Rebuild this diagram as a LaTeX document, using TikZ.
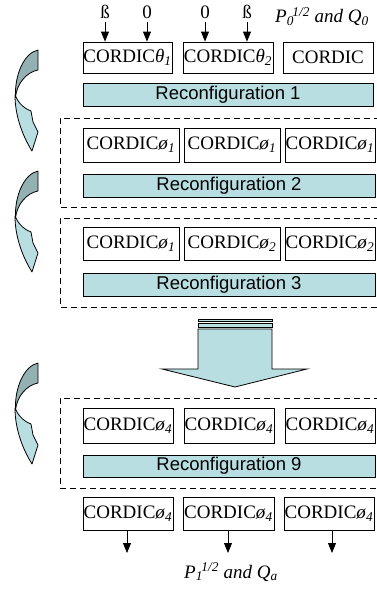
\documentclass[tikz,border=0pt]{standalone}
\usepackage{fontspec}
\setmainfont{Liberation Serif}
\newfontfamily\arialf{Liberation Sans}
\usetikzlibrary{arrows.meta}
\definecolor{barfill}{RGB}{185,222,225}
\definecolor{darkteal}{RGB}{147,177,179}
\newcommand{\mycurvedarrow}[1]{%
\begin{scope}[shift={(0,#1)}]
 \draw[line width=0.8pt, fill=barfill, line join=round]
   (15,45) .. controls (15,65) and (22,85) .. (32,101) -- (38,82) -- (33,72) -- (31,61)
   .. controls (25,59) and (19,54) .. (15.5,46) -- cycle;
 \draw[line width=0.8pt, fill=darkteal, line join=round]
   (38,0) -- (38,20) .. controls (27,22) and (17,33) .. (15.5,47)
   .. controls (14.5,25) and (24,3) .. (38,0) -- cycle;
\end{scope}}
\tikzset{
  cbox/.style={draw, line width=0.8pt, inner sep=0pt, font=\fontsize{19}{21}\selectfont},
  rbar/.style={draw, line width=0.8pt, fill=barfill, inner sep=0pt, font=\arialf\fontsize{18.5}{20}\selectfont},
  dbox/.style={draw, line width=0.8pt, dash pattern=on 6pt off 4pt},
  inarrow/.style={line width=0.8pt, -{Triangle[width=8pt,length=10pt]}},
  lbl/.style={inner sep=0pt, font=\fontsize{19}{21}\selectfont},
  bigarrow/.style={draw, line width=0.8pt, fill=barfill},
}
\newcommand{\cth}[1]{CORDIC\textit{θ}\textsubscript{\textit{#1}}}
\newcommand{\cph}[1]{CORDIC\textit{ø}\textsubscript{\textit{#1}}}
\begin{document}
\begin{tikzpicture}[x=1pt,y=-1pt]
\useasboundingbox (0,0) rectangle (377,589);
% row 1
\node[cbox, minimum width=89pt, minimum height=31pt] (a1) at (127.5,57.5) {\cth{1}};
\node[cbox, minimum width=90pt, minimum height=31pt] (a2) at (228,57.5) {\cth{2}};
\node[cbox, minimum width=90pt, minimum height=31pt] (a3) at (328,57.5) {CORDIC};
\node[lbl, anchor=base] (i1) at (105,18) {ß};
\node[lbl, anchor=base] (i2) at (147,18) {0};
\node[lbl, anchor=base] (i3) at (205,18) {0};
\node[lbl, anchor=base] (i4) at (247,18) {ß};
\foreach \i/\b in {i1/a1,i2/a1,i3/a2,i4/a2}
  \draw[inarrow] ([yshift=-4pt]\i.south) -- (\i.south |- \b.north);
\node[lbl, anchor=base] (ptop) at (322,23) {\textit{P}\textsubscript{\textit{0}}\kern-1.5pt\textsuperscript{\textit{1/2}} \textit{and Q}\textsubscript{\textit{0}}};
\node[rbar, minimum width=290pt, minimum height=23pt] (r1) at (228,94.5) {Reconfiguration 1};
% dashed box 1
\draw[dbox] (380,118) -- (60,118) -- (60,207) -- (380,207);
\node[cbox, minimum width=96pt, minimum height=34pt] (b1) at (131,145) {\cph{1}};
\node[cbox, minimum width=96pt, minimum height=34pt] (b2) at (232,145) {\cph{1}};
\node[cbox, minimum width=90pt, minimum height=34pt] (b3) at (330,145) {\cph{1}};
\node[rbar, minimum width=292pt, minimum height=23pt] (r2) at (229,185.5) {Reconfiguration 2};
% dashed box 2
\draw[dbox] (380,218) -- (60,218) -- (60,307) -- (380,307);
\node[cbox, minimum width=96pt, minimum height=33pt] (c1) at (131,243.5) {\cph{1}};
\node[cbox, minimum width=96pt, minimum height=33pt] (c2) at (232,243.5) {\cph{2}};
\node[cbox, minimum width=90pt, minimum height=33pt] (c3) at (330,243.5) {\cph{2}};
\node[rbar, minimum width=292pt, minimum height=23pt] (r3) at (229,284.5) {Reconfiguration 3};
% big striped arrow
\draw[bigarrow] (198,319) rectangle (272,321.5);
\draw[bigarrow] (198,323) rectangle (272,327.5);
\draw[bigarrow, line join=miter] (198,329) -- (198,369) -- (162,369) -- (235,387) -- (307,369) -- (272,369) -- (272,329) -- cycle;
% dashed box 3
\draw[dbox] (380,398) -- (60,398) -- (60,488) -- (380,488);
\node[cbox, minimum width=90pt, minimum height=35pt] (d1) at (128,425.5) {\cph{4}};
\node[cbox, minimum width=90pt, minimum height=35pt] (d2) at (229,425.5) {\cph{4}};
\node[cbox, minimum width=90pt, minimum height=35pt] (d3) at (330,425.5) {\cph{4}};
\node[rbar, minimum width=292pt, minimum height=22pt] (r9) at (229,466) {Reconfiguration 9};
% output row
\node[cbox, minimum width=90pt, minimum height=33pt] (e1) at (128,513.5) {\cph{4}};
\node[cbox, minimum width=91pt, minimum height=33pt] (e2) at (228.5,513.5) {\cph{4}};
\node[cbox, minimum width=90pt, minimum height=33pt] (e3) at (329,513.5) {\cph{4}};
\coordinate (o1) at (127,553);
\coordinate (o2) at (228,553);
\coordinate (o3) at (332,553);
\draw[inarrow] (o1 |- e1.south) -- (o1);
\draw[inarrow] (o2 |- e2.south) -- (o2);
\draw[inarrow] (o3 |- e3.south) -- (o3);
\node[lbl, anchor=base] (pbot) at (231,578) {\textit{P}\textsubscript{\textit{1}}\kern-1.5pt\textsuperscript{\textit{1/2}} \textit{and Q}\textsubscript{\textit{a}}};
% curved arrows
\mycurvedarrow{50}
\mycurvedarrow{171}
\mycurvedarrow{363}
\end{tikzpicture}
\end{document}
